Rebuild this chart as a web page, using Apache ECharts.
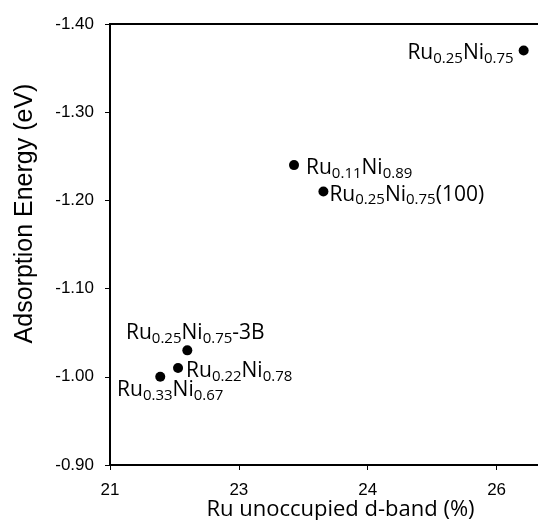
<!DOCTYPE html>
<html>
<head>
<meta charset="utf-8">
<script src="https://cdn.jsdelivr.net/npm/echarts@6/dist/echarts.min.js"></script>
<style>html,body{margin:0;padding:0;background:#fff}#c{width:538px;height:520px}</style>
</head>
<body>
<div id="c"></div>
<script>
// Data
const ruFrac = ['0.33', '0.22', '0.25', '0.11', '0.25', '0.25'];
const niFrac = ['0.67', '0.78', '0.75', '0.89', '0.75', '0.75'];
const suffix = ['', '', '-3B', '', '(100)', ''];
const dBand = [21.65, 21.88, 22.00, 23.38, 23.76, 26.35];
const energy = [-1.00, -1.01, -1.03, -1.24, -1.21, -1.37];
const xTickStart = 21;
const xTickStep = 5 / 3;
const yTicks = [-1.40, -1.30, -1.20, -1.10, -1.00, -0.90];

// Label placement (styling only)
const labelStyle = [
  { position: 'bottom', distance: 0, offset: [10, -5] },
  { position: 'right', distance: 3, offset: [0, 3] },
  { position: 'top', distance: 1, offset: [8, 2] },
  { position: 'right', distance: 7, offset: [0, 3] },
  { position: 'right', distance: 1, offset: [0, 3] },
  { position: 'left', distance: 5, offset: [0, 3] }
];

const labelFont = 'Open Sans';
const data = dBand.map((x, i) => ({
  value: [x, energy[i]],
  label: Object.assign({
    show: true,
    formatter: '{m|Ru}{s|' + ruFrac[i] + '}{m|Ni}{s|' + niFrac[i] + '}' + (suffix[i] ? '{m|' + suffix[i] + '}' : '')
  }, labelStyle[i])
}));

const chart = echarts.init(document.getElementById('c'), null, { renderer: 'canvas' });
chart.setOption({
  animation: false,
  backgroundColor: '#fff',
  grid: { left: 110, top: 24, bottom: 55, right: -5, show: true, borderColor: '#000', borderWidth: 2, containLabel: false, outerBoundsMode: 'none' },
  xAxis: {
    type: 'value',
    min: xTickStart,
    max: 26.6,
    interval: xTickStep,
    splitLine: { show: false },
    axisLine: { show: true, lineStyle: { color: '#000', width: 2 } },
    axisTick: { show: true, length: 5, lineStyle: { color: '#000', width: 1 } },
    axisLabel: {
      color: '#000', fontFamily: 'Liberation Sans', fontSize: 17, margin: 17, showMaxLabel: false,
      formatter: v => {
        const k = (v - xTickStart) / xTickStep;
        return Math.abs(k - Math.round(k)) < 0.01 ? String(Math.round(v)) : '';
      }
    },
    name: 'Ru unoccupied d-band (%)',
    nameLocation: 'middle',
    nameGap: 34,
    nameMoveOverlap: false,
    nameTextStyle: { color: '#000', fontFamily: labelFont, fontSize: 22, padding: [0, 0, 0, 28] }
  },
  yAxis: {
    type: 'value',
    inverse: true,
    min: yTicks[0],
    max: yTicks[yTicks.length - 1],
    interval: 0.1,
    splitLine: { show: false },
    axisLine: { show: true, lineStyle: { color: '#000', width: 2 } },
    axisTick: { show: true, length: 5, lineStyle: { color: '#000', width: 1 } },
    axisLabel: { color: '#000', fontFamily: 'Liberation Sans', fontSize: 17, margin: 16, formatter: v => v.toFixed(2) },
    name: 'Adsorption Energy (eV)',
    nameLocation: 'middle',
    nameGap: 72,
    nameMoveOverlap: false,
    nameTextStyle: { color: '#000', fontFamily: 'Liberation Sans', fontSize: 25, padding: [0, 0, 0, 62] }
  },
  series: [{
    type: 'scatter',
    symbol: 'circle',
    symbolSize: 10,
    itemStyle: { color: '#000', opacity: 1 },
    label: {
      color: '#000',
      opacity: 1,
      rich: {
        m: { fontFamily: labelFont, fontSize: 21, color: '#000', lineHeight: 26, verticalAlign: 'middle' },
        s: { fontFamily: labelFont, fontSize: 15, color: '#000', lineHeight: 14, verticalAlign: 'bottom' }
      }
    },
    data: data
  }]
});
</script>
</body>
</html>
